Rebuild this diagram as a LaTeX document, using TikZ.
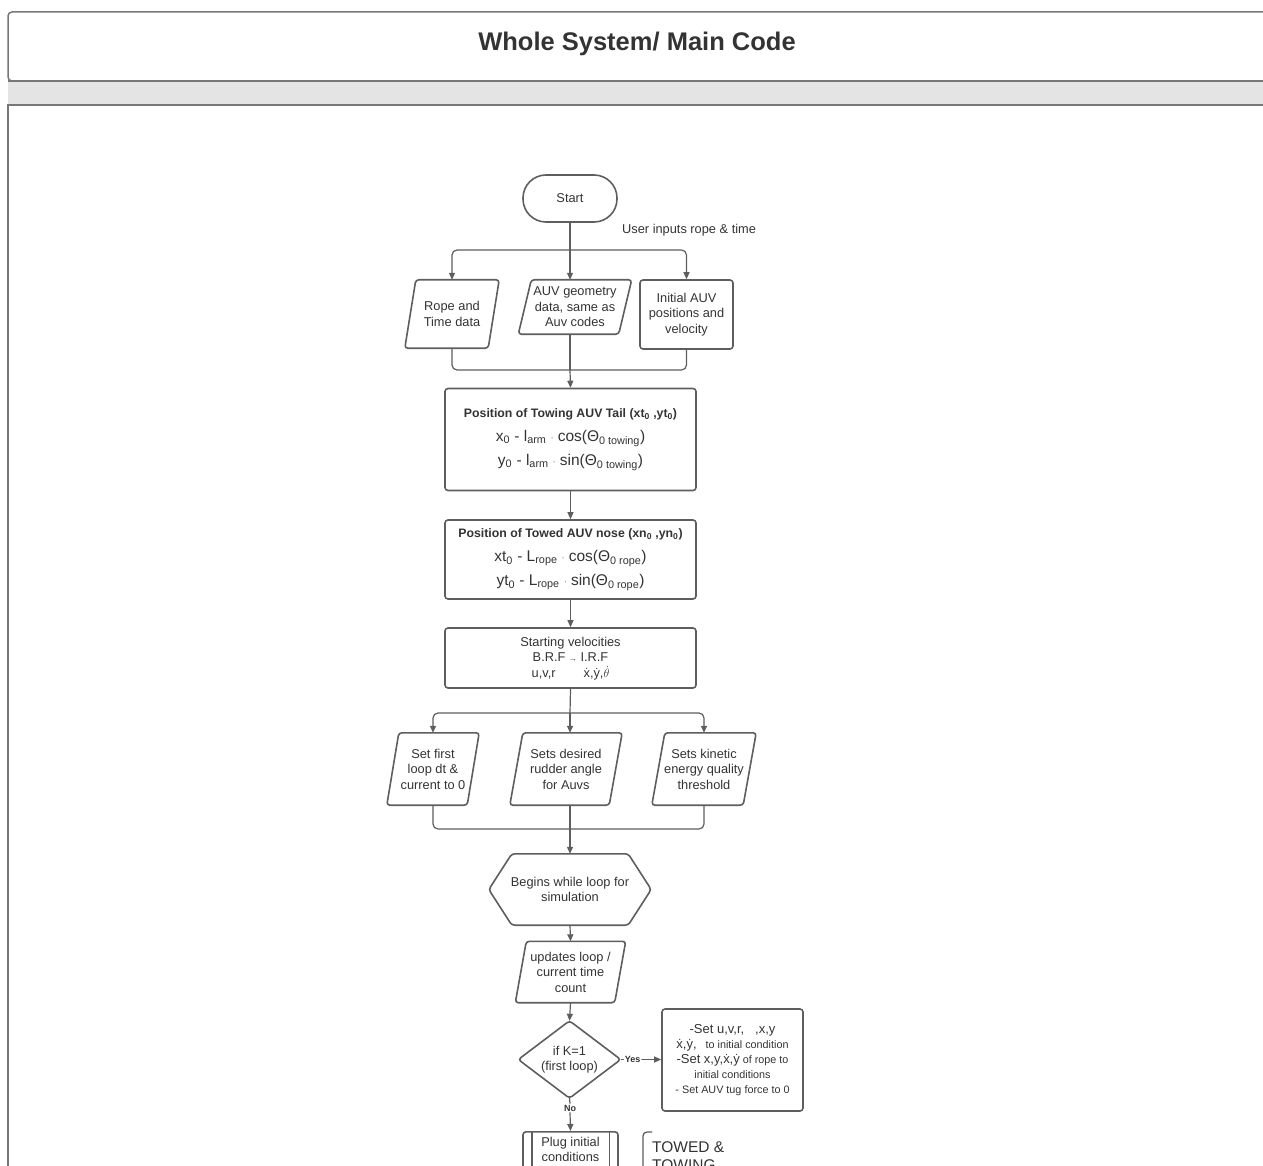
\documentclass[tikz,border=0pt]{standalone}
\usepackage{fontspec}
\setmainfont{Liberation Sans}
\usetikzlibrary{arrows.meta}
\definecolor{tc}{HTML}{333333}
\definecolor{lc}{HTML}{5E5E5E}
\definecolor{fc}{HTML}{777777}
\definecolor{band}{HTML}{E4E4E4}
\newcommand\lowsub[1]{\textsubscript{#1}}
\newcommand\topdot[1]{{\ooalign{#1\cr\hidewidth\raisebox{0.6em}{\fontsize{0.8em}{0.8em}\selectfont.}\hidewidth\cr}}}
\newcommand\cdotsmall{{\fontsize{8}{8}\selectfont\raisebox{0.15em}{·}}}
% slanted input/output outline drawn round a plain node
\newcommand\slantoutline[2][11]{\draw[shapeline,rounded corners=3] ([xshift=#1]#2.north west) -- (#2.north east) -- ([xshift=-#1]#2.south east) -- (#2.south west) -- cycle;}
\tikzset{
  line/.style={draw=lc, line width=1.2pt, rounded corners=5},
  arr/.style={line, -{Triangle[length=7pt,width=6pt]}},
  shapeline/.style={draw=lc, line width=1.6pt},
  txt/.style={text=tc, font=\fontsize{12.8}{15.5}\selectfont, align=center, inner sep=0pt},
  procbox/.style={txt, shapeline, rounded corners=3},
  plain/.style={txt},
}
\begin{document}
\begin{tikzpicture}[x=1pt,y=-1pt]
\useasboundingbox (0,0) rectangle (1263,1166);
\clip (0,0) rectangle (1263,1166);

% frame: header, grey band, body
\draw[draw=fc, line width=1.5pt, rounded corners=4] (1290,81) -- (1290,12) -- (8,12) -- (8,81) -- cycle;
\fill[band] (8,81) rectangle (1290,105);
\draw[draw=fc, line width=1.5pt] (1290,105) -- (8,105) -- (8,1200);
\draw[draw=fc, line width=1.5pt] (8,81) -- (1290,81);
\node[text=tc, font=\fontsize{25.5}{30}\selectfont\bfseries] (title) at (637,44) {Whole System/ Main Code};

% start
\node[procbox, rounded corners=23, minimum width=94, minimum height=47] (start) at (570,198.5) {Start};
\node[txt, anchor=west] (userlbl) at (622,230) {User inputs rope \& time};

% inputs
\node[plain, minimum width=94, minimum height=68] (in1) at (452,314) {Rope and\\Time data};
\slantoutline[11]{in1}
\node[plain, minimum width=113, minimum height=54] (in2) at (575,307) {AUV geometry\\data, same as\\Auv codes};
\slantoutline[13]{in2}
\node[procbox, minimum width=93, minimum height=69] (in3) at (686.5,314.5) {Initial AUV\\positions and\\velocity};

\coordinate (split1) at (570,250);
\coordinate (merge1) at (570,370);
\draw[line] (start.south) -- (split1);
\draw[arr] (split1) -| (in1.north);
\draw[arr] (split1) -- (split1 |- in2.north);
\draw[arr] (split1) -| (in3.north);
\draw[line] (in1.south) |- (merge1);
\draw[line] (in3.south) |- (merge1);
\draw[line] (in2.south -| merge1) -- (merge1);

% positions
\node[procbox, minimum width=251, minimum height=102, font=\fontsize{15.5}{24}\selectfont] (box1) at (570.5,439.5)
  {{\fontsize{12.3}{24}\selectfont\bfseries Position of Towing AUV Tail (xt\lowsub{0} ,yt\lowsub{0})}\\
   x\lowsub{0} - l\lowsub{arm} \cdotsmall\ cos(Θ\lowsub{0 towing})\\
   y\lowsub{0} - l\lowsub{arm} \cdotsmall\ sin(Θ\lowsub{0 towing})};
\node[procbox, minimum width=251, minimum height=79, font=\fontsize{15.5}{24}\selectfont] (box2) at (570.5,559.5)
  {{\fontsize{12.3}{24}\selectfont\bfseries Position of Towed AUV nose (xn\lowsub{0} ,yn\lowsub{0})}\\
   xt\lowsub{0} - L\lowsub{rope} \cdotsmall\ cos(Θ\lowsub{0 rope})\\
   yt\lowsub{0} - L\lowsub{rope} \cdotsmall\ sin(Θ\lowsub{0 rope})};
\node[procbox, minimum width=251, minimum height=60] (box3) at (570.5,658)
  {Starting velocities\\
   B.R.F {\fontsize{8}{8}\selectfont →} I.R.F\\
   u,v,r\hspace{28pt}\topdot{x},\topdot{y},$\dot{\theta}$};

\draw[arr] (merge1) -- (box1.north);
\draw[arr] (box1.south) -- (box2.north);
\draw[arr] (box2.south) -- (box3.north);

% settings
\node[plain, minimum width=92, minimum height=72] (set1) at (433,769) {Set first\\loop dt \&\\current to 0};
\slantoutline[12]{set1}
\node[plain, minimum width=112, minimum height=72] (set2) at (566,769) {Sets desired\\rudder angle\\for Auvs};
\slantoutline[13]{set2}
\node[plain, minimum width=104, minimum height=72] (set3) at (704,769) {Sets kinetic\\energy quality\\threshold};
\slantoutline[13]{set3}

\coordinate (split2) at (570,713);
\coordinate (merge2) at (570,829);
\draw[line] (box3.south) -- (split2);
\draw[arr] (split2) -| (set1.north);
\draw[arr] (split2) -- (split2 |- set2.north);
\draw[arr] (split2) -| (set3.north);
\draw[line] (set1.south) |- (merge2);
\draw[line] (set3.south) |- (merge2);
\draw[line] (set2.south -| merge2) -- (merge2);

% loop start
\node[plain, minimum width=162, minimum height=71] (loop) at (570,889.5) {Begins while loop for\\simulation};
\draw[shapeline, rounded corners=3] (loop.west) -- ([xshift=23]loop.north west) -- ([xshift=-23]loop.north east) -- (loop.east) -- ([xshift=-23]loop.south east) -- ([xshift=23]loop.south west) -- cycle;
\draw[arr] (merge2) -- (loop.north);

\node[plain, minimum width=110, minimum height=61] (upd) at (570.5,972) {updates loop /\\current time\\count};
\slantoutline[11]{upd}
\draw[arr] (loop.south) -- (upd.north);

% decision
\node[plain, minimum width=102, minimum height=77] (dec) at (569.5,1059.5) {if K=1\\(first loop)};
\draw[shapeline, rounded corners=3] (dec.north) -- (dec.east) -- (dec.south) -- (dec.west) -- cycle;
\draw[arr] (upd.south) -- (dec.north);

\node[procbox, minimum width=141, minimum height=102, font=\fontsize{10.8}{15}\selectfont] (init) at (732.5,1060)
  {{\fontsize{13}{15}\selectfont -Set u,v,r,\ \ \ ,x,y}\\
   {\fontsize{13}{15}\selectfont \topdot{x},\topdot{y},}\ \ \ to initial condition\\
   {\fontsize{13}{15}\selectfont -Set x,y,\topdot{x},\topdot{y}} of rope to\\
   initial conditions\\
   - Set AUV tug force to 0};
\draw[line] (dec.east) -- node[pos=0.5, fill=white, inner sep=1pt, text=tc, font=\fontsize{9}{9}\selectfont\bfseries] (yes) {Yes} ++(24,0) coordinate (yesend);
\draw[arr] (yesend) -- (init.west |- dec.east);

\node[text=tc, font=\fontsize{9}{9}\selectfont\bfseries, inner sep=1pt] (no) at (570,1108) {No};
\draw[line] (dec.south) -- (no.north);

% predefined process
\node[procbox, minimum width=95, minimum height=70, anchor=north] (plug) at (570.5,1131) {};
\node[txt, anchor=north] (plugtxt) at (570.5,1137) {Plug initial\\conditions};
\draw[shapeline] ([xshift=9.5]plug.north west) -- ([xshift=9.5]plug.south west);
\draw[shapeline] ([xshift=-9.5]plug.north east) -- ([xshift=-9.5]plug.south east);
\draw[arr] (no.south) -- (plug.north);

% annotation
\coordinate (anntop) at (652,1132);
\draw[draw=lc, line width=1.3pt, rounded corners=4] (anntop) -- (643,1132) -- (643,1200);
\node[anchor=north west, text=tc, font=\fontsize{15.5}{18}\selectfont, align=left, inner sep=0pt] (ann) at (652,1141) {TOWED \&\\TOWING};
\end{tikzpicture}
\end{document}
